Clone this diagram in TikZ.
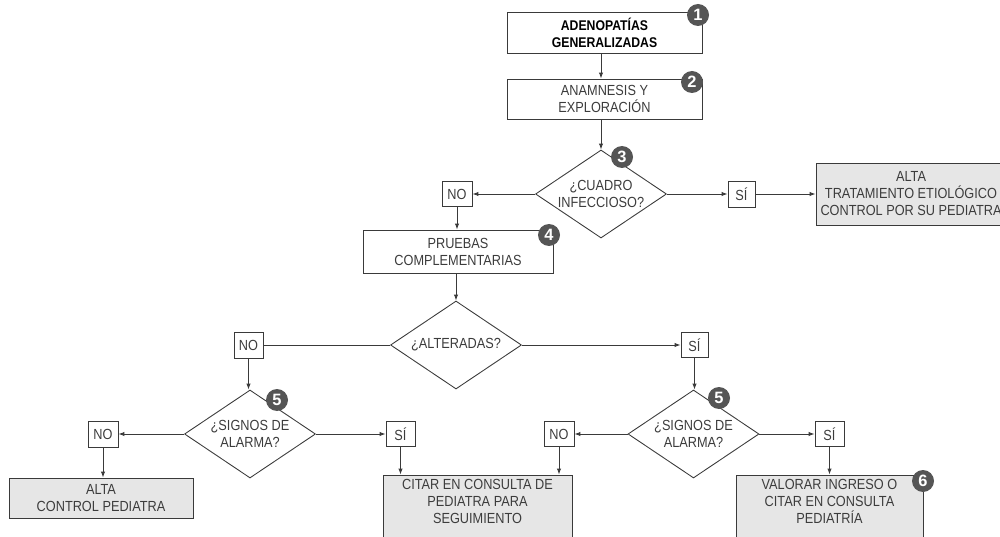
\documentclass[tikz,border=0pt]{standalone}
\usepackage{fontspec}
\setmainfont[FakeStretch=0.87]{Liberation Sans}
\newfontfamily\badgefont{Liberation Sans}
\usetikzlibrary{shapes.geometric,arrows.meta}
\definecolor{linec}{HTML}{3A3A3A}
\definecolor{textc}{HTML}{3C3C3C}
\definecolor{boxfill}{HTML}{E6E6E6}
\definecolor{badgec}{HTML}{555555}
\begin{document}
\begin{tikzpicture}[x=0.03cm,y=-0.03cm,
  every node/.style={font=\fontsize{12.5}{14.5}\selectfont, text=textc, align=center, inner sep=0pt},
  abox/.style 2 args={draw=linec, line width=0.75pt, minimum width=#1*0.03cm, minimum height=#2*0.03cm},
  gbox/.style={fill=boxfill},
  lbl/.style 2 args={draw=linec, line width=0.75pt, minimum width=#1*0.03cm, minimum height=#2*0.03cm},
  dia/.style={diamond, draw=linec, line width=0.75pt, minimum width=131*0.03cm, minimum height=88*0.03cm},
  badge/.style={circle, fill=badgec, text=white, minimum size=22*0.03cm, font=\badgefont\fontsize{14}{14}\selectfont\bfseries},
  conn/.style={draw=linec, line width=0.75pt},
  arr/.style={conn, -{Latex[length=5pt,width=3.6pt]}}
]
\useasboundingbox (0,0) rectangle (1000,537);
\clip (0,0) rectangle (1000,537);

% boxes
\node[abox={195}{41}, text=black, font=\fontsize{12}{14.5}\selectfont\bfseries] (b1) at (604.5,32.5) {ADENOPATÍAS\\GENERALIZADAS};
\node[abox={195}{40}] (b2) at (604.5,99) {ANAMNESIS Y\\EXPLORACIÓN};
\node[dia] (d3) at (601,194) {};
\node (d3t) at (601,194) {¿CUADRO\\INFECCIOSO?};
\node[lbl={30}{25}] (no3) at (457,194) {NO};
\node[lbl={27}{26}] (si3) at (741.5,194) {SÍ};
\node[abox={190}{62}, gbox] (alta) at (911,194) {ALTA\\TRATAMIENTO ETIOLÓGICO\\CONTROL POR SU PEDIATRA};
\node[abox={190}{43}] (prue) at (458,251.5) {PRUEBAS\\COMPLEMENTARIAS};
\node[dia] (dalt) at (456,345) {};
\node (daltt) at (456,345) {¿ALTERADAS?};
\node[lbl={29}{26}] (noA) at (248.5,345) {NO};
\node[lbl={27}{25}] (siA) at (694.5,345) {SÍ};
\node[dia] (d5L) at (250,434) {};
\node (d5Lt) at (250,434) {¿SIGNOS DE\\ALARMA?};
\node[lbl={30}{26}] (no5L) at (103,434) {NO};
\node[lbl={29}{25}] (si5L) at (400.5,434) {SÍ};
\node[abox={184}{40}, gbox] (altaC) at (101,498) {ALTA\\CONTROL PEDIATRA};
\node[abox={189}{66}, gbox] (citar) at (477.5,508) {};
\node (citart) at (477.5,501) {CITAR EN CONSULTA DE\\PEDIATRA PARA\\SEGUIMIENTO};
\node[dia] (d5R) at (693.5,434) {};
\node (d5Rt) at (693.5,434) {¿SIGNOS DE\\ALARMA?};
\node[lbl={30}{25}] (no5R) at (559,434) {NO};
\node[lbl={29}{25}] (si5R) at (829.5,434) {SÍ};
\node[abox={187}{66}, gbox] (val) at (829.5,508) {};
\node (valt) at (829.5,501) {VALORAR INGRESO O\\CITAR EN CONSULTA\\PEDIATRÍA};

% connectors
\draw[arr] (b1.south -| d3.north) -- (b2.north -| d3.north);
\draw[arr] (b2.south -| d3.north) -- (d3.north);
\draw[arr] (d3.west) -- (no3.east);
\draw[arr] (d3.east) -- (si3.west);
\draw[arr] (si3.east) -- (alta.west);
\draw[arr] (no3.south) -- (no3.south |- prue.north);
\draw[arr] (prue.south -| dalt.north) -- (dalt.north);
\draw[conn] (dalt.west) -- (noA.east);
\draw[arr] (dalt.east) -- (siA.west);
\draw[arr] (noA.south) -- (noA.south |- d5L.north);
\draw[arr] (siA.south) -- (siA.south |- d5R.north);
\draw[arr] (d5L.west) -- (no5L.east);
\draw[arr] (d5L.east) -- (si5L.west);
\draw[arr] (no5L.south) -- (no5L.south |- altaC.north);
\draw[arr] (si5L.south) -- (si5L.south |- citar.north);
\draw[arr] (d5R.west) -- (no5R.east);
\draw[arr] (d5R.east) -- (si5R.west);
\draw[arr] (no5R.south) -- (no5R.south |- citar.north);
\draw[arr] (si5R.south) -- (val.north);

% badges
\node[badge] (n1) at (698,15) {1};
\node[badge] (n2) at (692,82) {2};
\node[badge] (n3) at (622,157) {3};
\node[badge] (n4) at (549,235) {4};
\node[badge] (n5a) at (277,400) {5};
\node[badge] (n5b) at (719,398) {5};
\node[badge] (n6) at (923,481) {6};
\end{tikzpicture}
\end{document}
